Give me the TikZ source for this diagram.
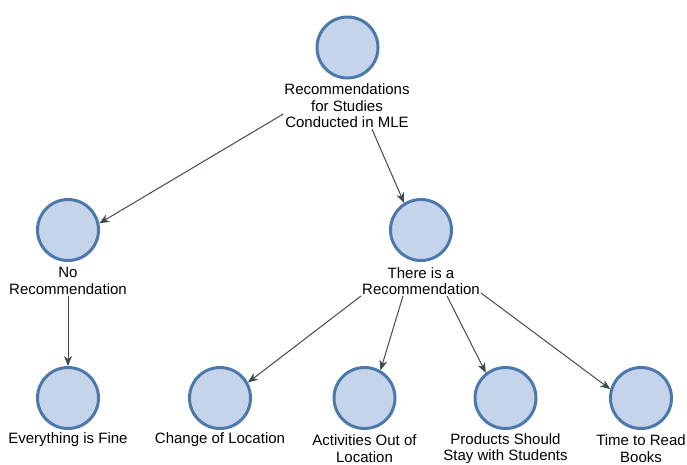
\documentclass[tikz,border=0pt]{standalone}
\usepackage{fontspec}
\setmainfont{Liberation Sans}
\usetikzlibrary{arrows.meta}
\definecolor{cfill}{RGB}{197,212,234}
\definecolor{cdraw}{RGB}{76,121,172}
\definecolor{cline}{RGB}{62,76,78}
\tikzset{
  bubble/.style={circle, fill=cfill, draw=cdraw, line width=3pt, minimum size=61pt, inner sep=0pt},
  lbl/.style={align=center, inner sep=1pt, font=\fontsize{15}{16.5}\selectfont, text=black},
  conn/.style={draw=cline, line width=1pt, -{Stealth[length=10pt,width=8pt,inset=3pt]}}
}
\begin{document}
\begin{tikzpicture}[x=1pt,y=-1pt]
\useasboundingbox (0,0) rectangle (687,464);
% circles
\node[bubble] (top) at (347.5,47.5) {};
\node[bubble] (no) at (68,230) {};
\node[bubble] (th) at (421,230) {};
\node[bubble] (ev) at (68,398) {};
\node[bubble] (ch) at (220,398) {};
\node[bubble] (ac) at (364.5,398) {};
\node[bubble] (pr) at (505.5,398) {};
\node[bubble] (ti) at (641,398) {};
% labels
\node[lbl] (toplbl) at (347,106) {Recommendations\\for Studies\\Conducted in MLE};
\node[lbl] (nolbl) at (68,281) {No\\Recommendation};
\node[lbl] (thlbl) at (421,281) {There is a\\Recommendation};
\node[lbl] (evlbl) at (68,440) {Everything is Fine};
\node[lbl] (chlbl) at (220,440) {Change of Location};
\node[lbl] (aclbl) at (364.5,448.5) {Activities Out of\\Location};
\node[lbl] (prlbl) at (505.5,448.5) {Products Should\\Stay with Students};
\node[lbl] (tilbl) at (641,448.5) {Time to Read\\Books};
% connectors
\draw[conn] ([yshift=-8pt]toplbl.west) -- (no.12);
\draw[conn] ([xshift=25pt]toplbl.south) -- (th.122);
\draw[conn] (nolbl.south) -- (ev.90);
\draw[conn] (thlbl.south west) -- (ch.29);
\draw[conn] ([xshift=-18pt]thlbl.south) -- (ac.60);
\draw[conn] ([xshift=26pt]thlbl.south) -- (pr.128);
\draw[conn] ([yshift=3pt]thlbl.south east) -- (ti.164);
\end{tikzpicture}
\end{document}
